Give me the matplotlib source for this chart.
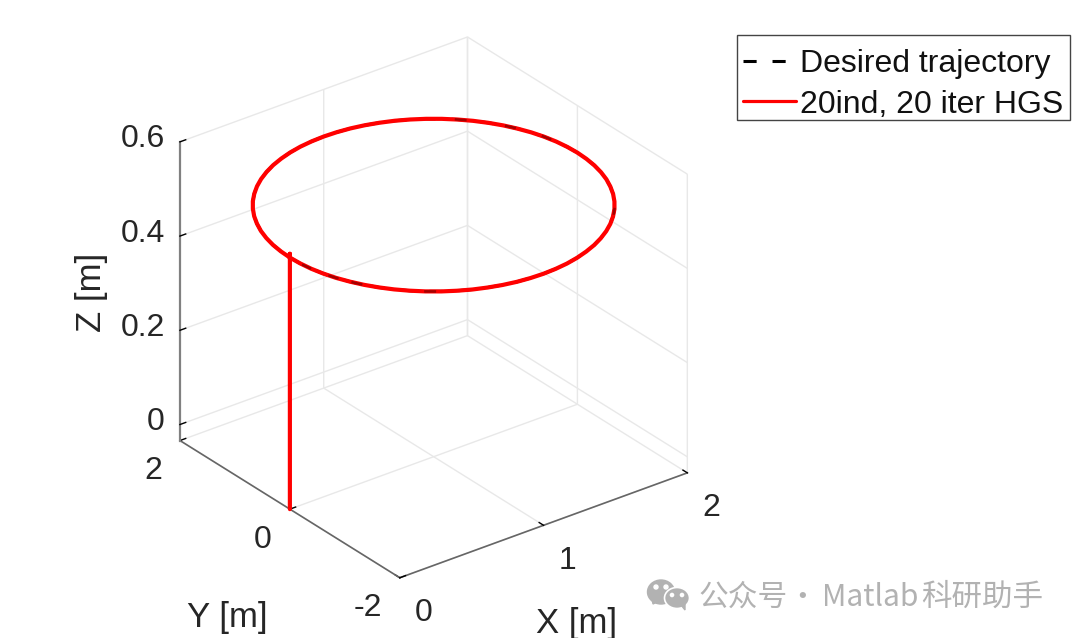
import matplotlib
matplotlib.use("Agg")
import matplotlib.pyplot as plt
from matplotlib.patches import Ellipse, Polygon, Rectangle
from mpl_toolkits.mplot3d import proj3d

# trajectory (every 5 deg around the ellipse)
traj_x = [0.000, 0.004, 0.015, 0.034, 0.060, 0.094, 0.134, 0.181, 0.234, 0.293, 0.357, 0.426, 0.500,
          0.577, 0.658, 0.741, 0.826, 0.913, 1.000, 1.087, 1.174, 1.259, 1.342, 1.423, 1.500, 1.574,
          1.643, 1.707, 1.766, 1.819, 1.866, 1.906, 1.940, 1.966, 1.985, 1.996, 2.000,
          1.996, 1.985, 1.966, 1.940, 1.906, 1.866, 1.819, 1.766, 1.707, 1.643, 1.574, 1.500,
          1.423, 1.342, 1.259, 1.174, 1.087, 1.000, 0.913, 0.826, 0.741, 0.658, 0.577, 0.500,
          0.426, 0.357, 0.293, 0.234, 0.181, 0.134, 0.094, 0.060, 0.034, 0.015, 0.004, 0.000]
traj_y = [0.000, -0.174, -0.347, -0.518, -0.684, -0.845, -1.000, -1.147, -1.286, -1.414, -1.532, -1.638, -1.732,
          -1.813, -1.879, -1.932, -1.970, -1.992, -2.000, -1.992, -1.970, -1.932, -1.879, -1.813, -1.732, -1.638,
          -1.532, -1.414, -1.286, -1.147, -1.000, -0.845, -0.684, -0.518, -0.347, -0.174, 0.000,
          0.174, 0.347, 0.518, 0.684, 0.845, 1.000, 1.147, 1.286, 1.414, 1.532, 1.638, 1.732,
          1.813, 1.879, 1.932, 1.970, 1.992, 2.000, 1.992, 1.970, 1.932, 1.879, 1.813, 1.732,
          1.638, 1.532, 1.414, 1.286, 1.147, 1.000, 0.845, 0.684, 0.518, 0.347, 0.174, 0.000]
traj_z = [0.5] * len(traj_x)

# climb from the floor up to the circle
climb_x = [0.0, 0.0]
climb_y = [0.0, 0.0]
climb_z = [-0.034, 0.508]

# short pieces where the black line shows through the red one
peek_x = [[1.737, 1.701], [1.899, 1.875], [1.976, 1.964], [1.766, 1.731],
          [0.006, 0.014], [0.046, 0.063], [0.101, 0.125], [0.357, 0.398]]
peek_y = [[1.351, 1.427], [0.877, 0.970], [0.433, 0.534], [-1.286, -1.364],
          [-0.226, -0.330], [-0.601, -0.700], [-0.877, -0.970], [-1.532, -1.597]]

x_ticks = [0, 1, 2]
y_ticks = [-2, 0, 2]
z_ticks = [0, 0.2, 0.4, 0.6]
x_labels = ["0", "1", "2"]
y_labels = ["-2", "0", "2"]
z_labels = ["0", "0.2", "0.4", "0.6"]

W, H = 1080, 638
txt_color = "#262626"
plt.rcParams["font.family"] = ["Liberation Sans", "DejaVu Sans"]


def px(x, y):
    return x / W, 1 - y / H


fig = plt.figure(figsize=(W / 100, H / 100), dpi=100)
side = 640
ax = fig.add_axes([(425 - side / 2) / W, (H - 316 - side / 2) / H, side / W, side / H],
                  projection="3d", proj_type="ortho")
ax.patch.set_alpha(0)
ax.view_init(elev=28.5, azim=-127.4)
ax.set_box_aspect((1, 1, 0.939), zoom=0.932)

ax.plot(traj_x, traj_y, traj_z, color="black", linestyle=(0, (4.3, 5.2)), linewidth=2.2, label="Desired trajectory")
ax.plot(climb_x + traj_x, climb_y + traj_y, climb_z + traj_z, color="#ff0000", linewidth=3.0,
        label="20ind, 20 iter HGS", solid_joinstyle="round", solid_capstyle="round")
for seg_x, seg_y in zip(peek_x, peek_y):
    ax.plot(seg_x, seg_y, [0.5, 0.5], color="#5a0000", linewidth=1.8, alpha=0.55)

ax.set_xlim(0, 2, view_margin=0)
ax.set_ylim(-2, 2, view_margin=0)
ax.set_zlim(-0.034, 0.6, view_margin=0)
ax.set_xticks(x_ticks, [""] * len(x_ticks))
ax.set_yticks(y_ticks, [""] * len(y_ticks))
ax.set_zticks(z_ticks, [""] * len(z_ticks))

for axis in (ax.xaxis, ax.yaxis, ax.zaxis):
    axis.set_pane_color((1, 1, 1, 0))
    axis.pane.set_edgecolor("#e6e6e6")
    axis.pane.set_linewidth(1)
    axis.line.set_color("#666666")
    axis.line.set_linewidth(1.2)
    axis._axinfo["grid"]["color"] = "#e8e8e8"
    axis._axinfo["grid"]["linewidth"] = 1
    axis._axinfo["tick"]["inward_factor"] = 0
    axis._axinfo["tick"]["outward_factor"] = 0.25
    axis._axinfo["tick"]["linewidth"] = {True: 1, False: 1}
    axis._axinfo["tick"]["color"] = "#666666"
ax.zaxis.line.set_color("#808080")
ax.zaxis.line.set_linewidth(1.6)


def tick_text(x, y, z, s, ha, dx, dy):
    # mplot3d can't place its tick labels like matlab, so annotate the tick point
    u, v, _ = proj3d.proj_transform(x, y, z, ax.get_proj())
    ax.annotate(s, (u, v), xytext=(dx, -dy), textcoords="offset pixels", ha=ha, va="center_baseline",
                fontsize=23, color=txt_color, annotation_clip=False)


for val, lab in zip(x_ticks, x_labels):
    tick_text(val, -2, -0.034, lab, "left", 15, 32)
for val, lab in zip(y_ticks, y_labels):
    tick_text(0, val, -0.034, lab, "right", -18, 27)
for val, lab in zip(z_ticks, z_labels):
    tick_text(0, 2, val, lab, "right", -15, -6)

fig.text(*px(577, 623), "X [m]", fontsize=25, color=txt_color, ha="center", va="center")
fig.text(*px(227, 617), "Y [m]", fontsize=25, color=txt_color, ha="center", va="center")
fig.text(*px(92, 292), "Z [m]", fontsize=25, color=txt_color, ha="center", va="center", rotation=90)

handles, labels = ax.get_legend_handles_labels()
fig.add_artist(Rectangle(px(737, 120), 333 / W, 85 / H, facecolor="white", edgecolor="#444444", linewidth=1,
                         transform=fig.transFigure))
leg = fig.legend(handles, labels, loc="upper left", bbox_to_anchor=px(737, 43), fontsize=23, frameon=False,
                 borderpad=0.2, labelspacing=0.32, handlelength=1.65, handletextpad=0.12, borderaxespad=0,
                 labelcolor="#111111")
leg.get_lines()[1].set_linewidth(2.3)

# watermark
wm = "#b2b2b2"
fig.add_artist(Ellipse(px(661, 592), 27 / W, 24 / H, color=wm, transform=fig.transFigure))
fig.add_artist(Polygon([px(652, 599), px(653, 604), px(659, 601)], color=wm, transform=fig.transFigure))
fig.add_artist(Ellipse(px(677, 598), 25 / W, 21 / H, facecolor=wm, edgecolor="white", linewidth=1.2,
                       transform=fig.transFigure))
fig.add_artist(Polygon([px(681, 605), px(685, 610), px(685, 604)], color=wm, transform=fig.transFigure))
for ex, ey, r in [(656, 587, 2), (666, 587, 2), (672, 595, 1.6), (682, 595, 1.6)]:
    fig.add_artist(Ellipse(px(ex, ey), 2 * r / W, 2 * r / H, color="white", transform=fig.transFigure))
cjk = ["Noto Sans CJK SC", "DejaVu Sans"]
for wx, piece, fs in [(698, "公众号", 21.4), (787, "·", 21.4), (822, "Matlab", 21.6), (921, "科研助手", 22)]:
    fig.text(*px(wx, 597), piece, fontsize=fs, color=wm, ha="left", va="center", family=cjk)

fig.savefig("out.png", dpi=100)
